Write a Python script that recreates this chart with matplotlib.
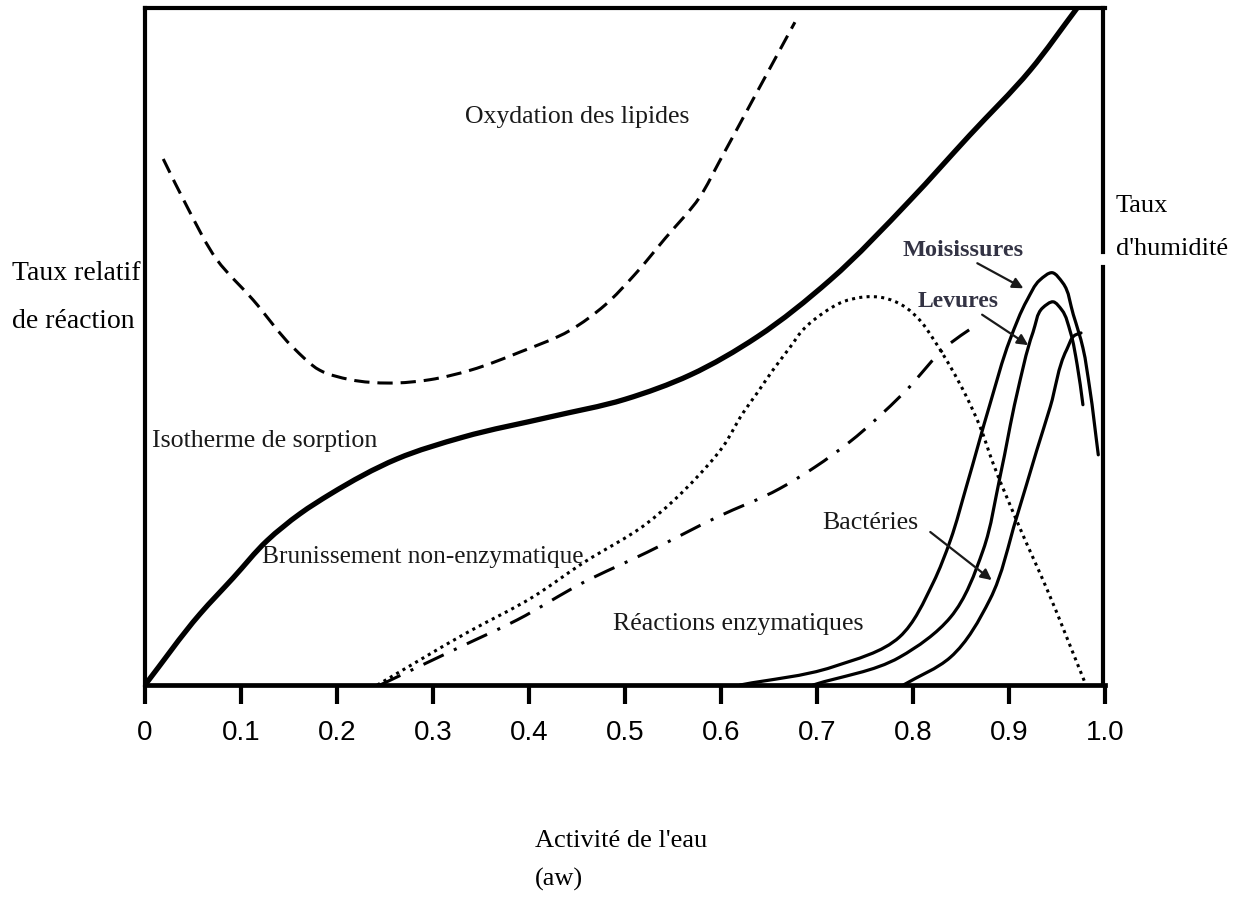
import numpy as np
import matplotlib
matplotlib.use('Agg')
import matplotlib.pyplot as plt
from matplotlib.path import Path
from matplotlib.patches import PathPatch

plt.rcParams['font.family'] = ['Liberation Serif', 'DejaVu Serif']

# water activity (aw) vs relative reaction rate (0-100), read curve by curve
aw_iso = [0, 0.0573, 0.0917, 0.127, 0.1615, 0.193, 0.2625, 0.331, 0.422, 0.5,
          0.568, 0.6375, 0.7135, 0.797, 0.859, 0.922, 0.971]
rate_iso = [0, 10.5, 15.8, 21.3, 25.3, 28.2, 33.4, 36.6, 39.6, 42.2,
            45.8, 51.4, 59.8, 71.6, 81.2, 90.8, 100]

aw_lip = [0.019, 0.044, 0.075, 0.1125, 0.154, 0.182, 0.214, 0.255, 0.297, 0.339,
          0.391, 0.443, 0.479, 0.510, 0.542, 0.578, 0.599, 0.633, 0.677]
rate_lip = [77.7, 70.6, 62.8, 56.9, 49.9, 46.5, 45.1, 44.6, 45.1, 46.5,
            49.2, 52.4, 56.1, 60.6, 66.0, 72.1, 77.5, 86.4, 97.9]

aw_brun = [0.242, 0.335, 0.404, 0.456, 0.523, 0.575, 0.602, 0.623, 0.6375, 0.654,
           0.672, 0.685, 0.706, 0.727, 0.748, 0.769, 0.790, 0.807, 0.823, 0.839,
           0.856, 0.870, 0.883, 0.911, 0.940, 0.979]
rate_brun = [0, 7.7, 13.0, 18.0, 23.9, 30.7, 35.2, 40.2, 43.1, 46.5,
             49.9, 52.4, 54.9, 56.6, 57.3, 57.2, 56.0, 53.9, 50.7, 47.0,
             42.5, 38.1, 32.9, 23.3, 14.0, 0.4]

aw_enz = [0.245, 0.328, 0.3875, 0.456, 0.523, 0.596, 0.661, 0.698, 0.734, 0.790, 0.839, 0.861]
rate_enz = [0, 5.6, 9.6, 15.1, 19.6, 24.8, 29.0, 32.2, 35.9, 43.1, 50.5, 52.7]

aw_mold = [0.620, 0.717, 0.786, 0.821, 0.839, 0.856, 0.880, 0.901, 0.919, 0.932,
           0.945, 0.956, 0.967, 0.977, 0.984, 0.993]
rate_mold = [0, 2.7, 7.1, 15.1, 21.4, 29.5, 41.4, 51.0, 56.9, 59.8,
             60.9, 59.4, 54.7, 49.8, 43.9, 34.0]

aw_yeast = [0.696, 0.786, 0.839, 0.873, 0.891, 0.908, 0.925, 0.935, 0.946,
            0.955, 0.964, 0.971, 0.977]
rate_yeast = [0, 4.1, 10.0, 19.9, 31.0, 42.8, 52.1, 55.7, 56.6,
              55.4, 52.1, 47.3, 41.4]

aw_bact = [0.790, 0.839, 0.880, 0.908, 0.929, 0.943, 0.960, 0.969, 0.975]
rate_bact = [0, 4.1, 12.6, 24.8, 34.7, 41.1, 49.5, 51.7, 52.0]

xticks = [0, 0.1, 0.2, 0.3, 0.4, 0.5, 0.6, 0.7, 0.8, 0.9, 1.0]
xticklabels = ['0', '0.1', '0.2', '0.3', '0.4', '0.5', '0.6', '0.7', '0.8', '0.9', '1.0']

# pixels per data unit, so the spline is built in screen proportions
SCALE = np.array([960.0, 6.77])


def smooth_path(x, y):
    # chord-length cubic spline through the points, as Bezier segments
    p = np.column_stack([x, y]).astype(float) * SCALE
    d = np.hypot(*np.diff(p, axis=0).T)
    u = np.diff(p, axis=0) / d[:, None]
    m = np.zeros_like(p)
    m[0], m[-1] = u[0], u[-1]
    for i in range(1, len(p) - 1):
        m[i] = (u[i - 1] * d[i] + u[i] * d[i - 1]) / (d[i - 1] + d[i])
    verts = [p[0]]
    codes = [Path.MOVETO]
    for i in range(len(p) - 1):
        h = d[i] / 3
        verts += [p[i] + m[i] * h, p[i + 1] - m[i + 1] * h, p[i + 1]]
        codes += [Path.CURVE4] * 3
    return Path(np.array(verts) / SCALE, codes)


def curve(ax, x, y, lw, ls='-', cap='round'):
    patch = PathPatch(smooth_path(x, y), fill=False, lw=lw, linestyle=ls,
                      edgecolor='black', capstyle=cap, joinstyle='round')
    ax.add_patch(patch)
    return patch


fig = plt.figure(figsize=(12.38, 8.97), dpi=100)
ax = fig.add_axes([145 / 1238, 212 / 897, 960 / 1238, 677 / 897])
ax.set_xlim(0, 1)
ax.set_ylim(0, 100)

curve(ax, aw_iso, rate_iso, 3.8)
curve(ax, aw_lip, rate_lip, 2.2, ls=(0, (5, 2.6)), cap='butt')
curve(ax, aw_brun, rate_brun, 2.2, ls=(0, (1, 1.4)), cap='butt')
curve(ax, aw_enz, rate_enz, 2.2, ls=(0, (7.3, 3.7, 1, 3.7)), cap='butt')
curve(ax, aw_mold, rate_mold, 2.3)
curve(ax, aw_yeast, rate_yeast, 2.3)
curve(ax, aw_bact, rate_bact, 2.3)

txt = '#1a1a1a'
ax.text(0.333, 83.0, 'Oxydation des lipides', fontsize=18.5, color=txt)
ax.text(0.007, 35.2, 'Isotherme de sorption', fontsize=18.6, color=txt)
ax.text(0.122, 18.0, 'Brunissement non-enzymatique', fontsize=18.3, color=txt)
ax.text(0.4875, 8.1, 'Réactions enzymatiques', fontsize=18.6, color=txt)
ax.text(0.705, 23.0, 'Bactéries', fontsize=18.6, color=txt)
ax.text(0.789, 63.4, 'Moisissures', fontsize=17.5, fontweight='bold', color='#333344')
ax.text(0.805, 55.8, 'Levures', fontsize=17, fontweight='bold', color='#333344')

arrow = dict(arrowstyle='-|>', lw=1.6, color=txt, mutation_scale=16, shrinkA=0, shrinkB=0)
ax.annotate('', xy=(0.915, 58.6), xytext=(0.867, 62.3), arrowprops=arrow)
ax.annotate('', xy=(0.920, 50.2), xytext=(0.872, 54.7), arrowprops=arrow)
ax.annotate('', xy=(0.882, 15.5), xytext=(0.818, 22.6), arrowprops=arrow)

# frame: heavy left/bottom, right side broken next to its label
for side in ['left', 'bottom', 'top']:
    ax.spines[side].set_linewidth(3)
ax.spines['bottom'].set_linewidth(3.4)
ax.spines['right'].set_visible(False)
ax.axvline(0.998, ymin=0, ymax=0.617, color='black', lw=3, clip_on=False)
ax.axvline(0.998, ymin=0.640, ymax=1.0, color='black', lw=3, clip_on=False)

ax.set_yticks([])
ax.set_xticks(xticks)
ax.set_xticklabels(xticklabels, family='Liberation Sans', fontsize=20)
ax.tick_params(axis='x', direction='out', length=14, width=3, pad=11, colors='black')

fig.text(12 / 1238, 1 - 280 / 897, 'Taux relatif', fontsize=20, va='baseline')
fig.text(12 / 1238, 1 - 328 / 897, 'de réaction', fontsize=20, va='baseline')
fig.text(1116 / 1238, 1 - 212 / 897, 'Taux', fontsize=19, va='baseline')
fig.text(1116 / 1238, 1 - 255 / 897, "d'humidité", fontsize=19, va='baseline')
fig.text(535 / 1238, 1 - 847 / 897, "Activité de l'eau", fontsize=19, va='baseline')
fig.text(535 / 1238, 1 - 886 / 897, '(aw)', fontsize=19, va='baseline')

fig.savefig('out.png', dpi=100, facecolor='white')
